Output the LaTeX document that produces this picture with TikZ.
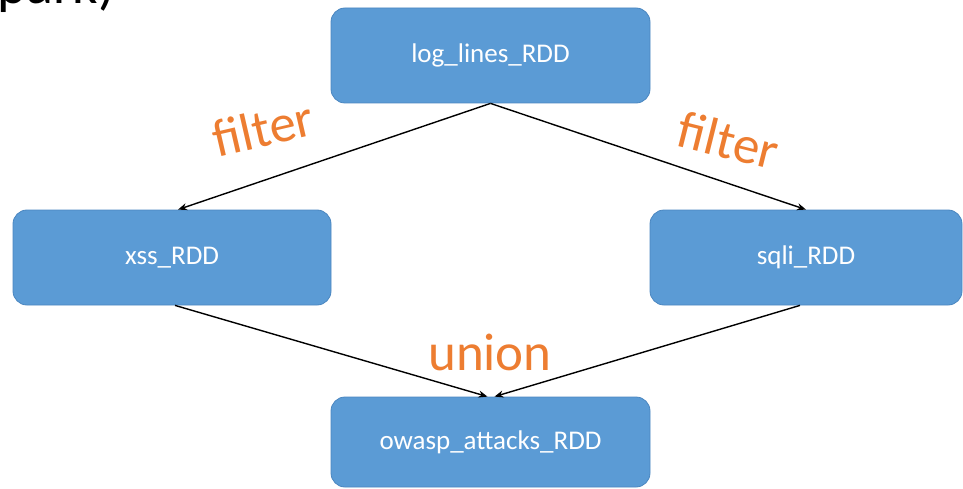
\documentclass[tikz,border=0pt]{standalone}
\usepackage{fontspec}
\setmainfont{Carlito}
\usetikzlibrary{arrows.meta}
\definecolor{boxfill}{HTML}{5B9BD5}
\definecolor{boxline}{HTML}{4A86C0}
\definecolor{opcol}{HTML}{ED7D31}
\tikzset{
  rdd/.style={draw=boxline, fill=boxfill, line width=0.8pt, rounded corners=14pt,
    text=white, font=\fontsize{27}{32}\selectfont, inner sep=0pt},
  flow/.style={draw=black, line width=1.4pt, -{Stealth[length=9pt,width=7pt]}},
  oplabel/.style={text=opcol, font=\fontsize{53}{58}\selectfont, inner sep=0pt, anchor=base}
}
\begin{document}
\begin{tikzpicture}[x=1pt,y=-1pt]
\useasboundingbox (0,0) rectangle (963,489);
\begin{scope}
\clip (0,0) rectangle (963,489);
\node[anchor=base west, inner sep=0pt, font=\fontsize{56}{60}\selectfont] (cut) at (-3,4) {park)};
\end{scope}
\node[rdd, minimum width=319pt, minimum height=95pt] (top) at (490.5,55.5) {log\_lines\_RDD};
\node[rdd, minimum width=318pt, minimum height=95pt] (xss) at (172,257.5) {xss\_RDD};
\node[rdd, minimum width=312pt, minimum height=95pt] (sqli) at (806,257.5) {sqli\_RDD};
\node[rdd, minimum width=319pt, minimum height=90pt] (owasp) at (490.5,442) {owasp\_attacks\_RDD};
\draw[flow] (top.south) -- ([xshift=6pt]xss.north);
\draw[flow] (top.south) -- (sqli.north);
\draw[flow] ([xshift=3pt]xss.south) -- ([xshift=-3pt]owasp.north);
\draw[flow] ([xshift=-6pt]sqli.south) -- ([xshift=4pt]owasp.north);
\node[oplabel, rotate=13] (f1) at (267,146) {filter};
\node[oplabel, rotate=-14] (f2) at (724,158) {filter};
\node[oplabel] (un) at (490,370) {union};
\end{tikzpicture}
\end{document}
